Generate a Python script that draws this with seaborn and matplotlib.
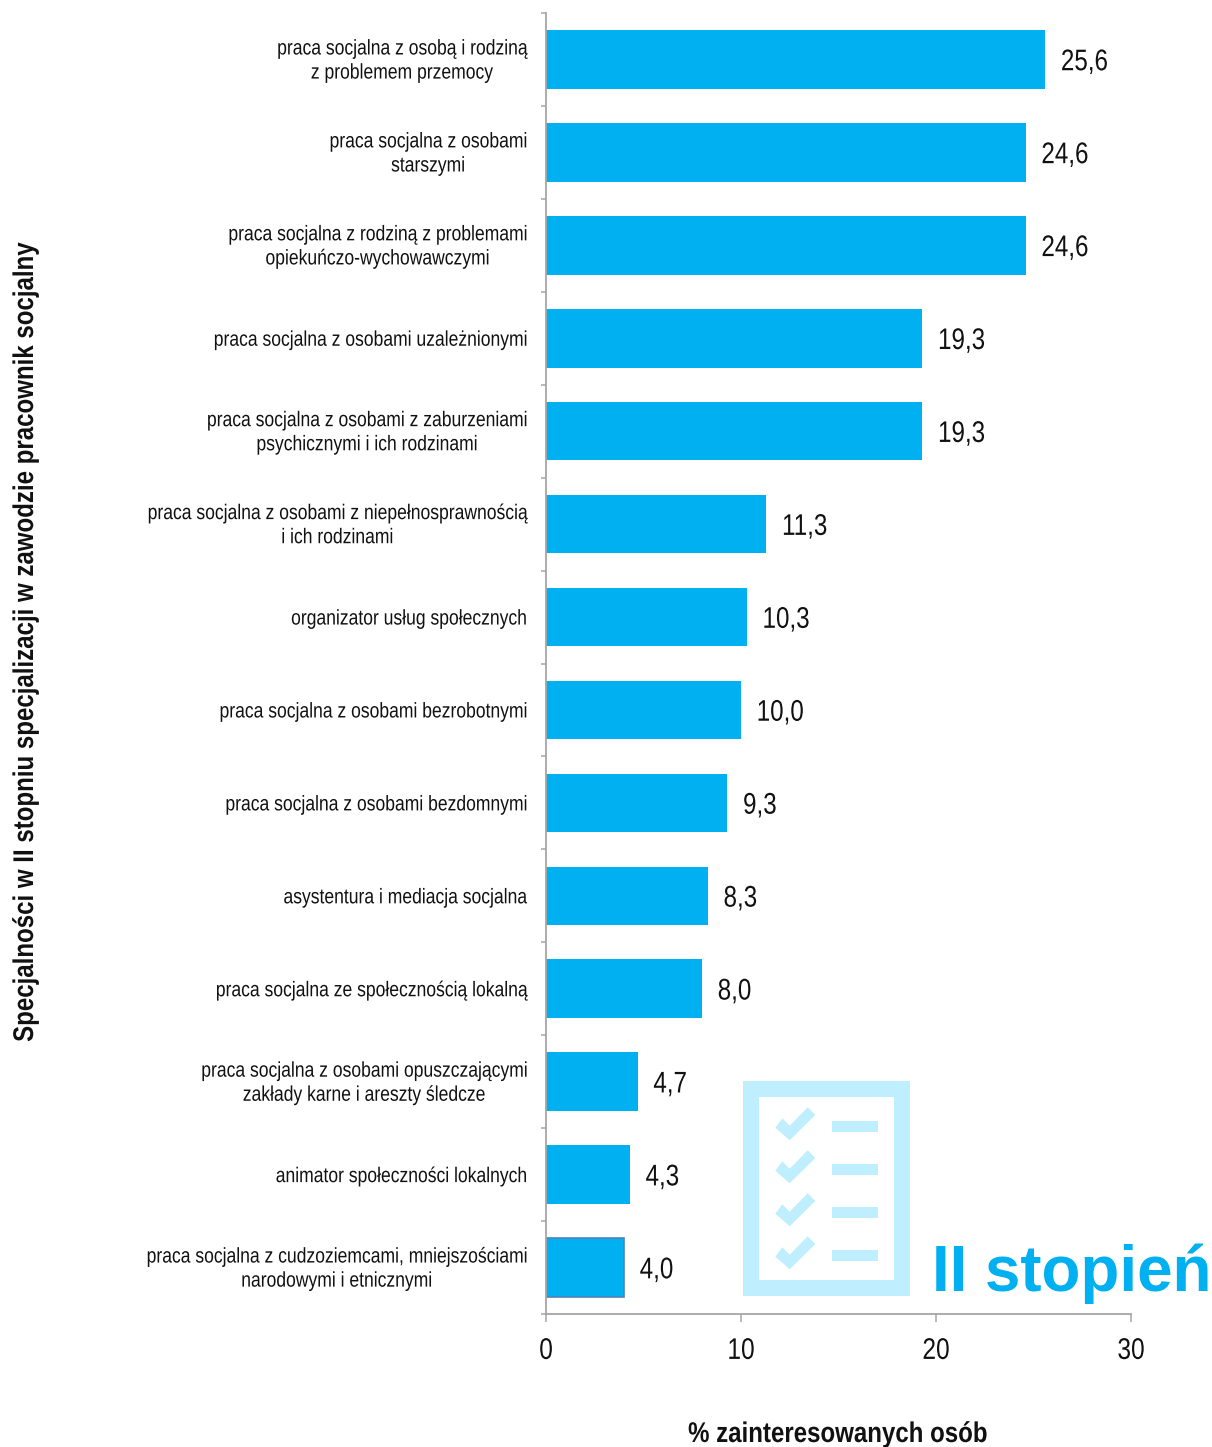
import numpy as np
import pandas as pd
import matplotlib
matplotlib.use("Agg")
import matplotlib.pyplot as plt
from matplotlib.patches import Rectangle, Polygon
from matplotlib.patheffects import AbstractPathEffect
from matplotlib.transforms import Affine2D
import seaborn as sns

categories = [
    "praca socjalna z osobą i rodziną\nz problemem przemocy",
    "praca socjalna z osobami\nstarszymi",
    "praca socjalna z rodziną z problemami\nopiekuńczo-wychowawczymi",
    "praca socjalna z osobami uzależnionymi",
    "praca socjalna z osobami z zaburzeniami\npsychicznymi i ich rodzinami",
    "praca socjalna z osobami z niepełnosprawnością\ni ich rodzinami",
    "organizator usług społecznych",
    "praca socjalna z osobami bezrobotnymi",
    "praca socjalna z osobami bezdomnymi",
    "asystentura i mediacja socjalna",
    "praca socjalna ze społecznością lokalną",
    "praca socjalna z osobami opuszczającymi\nzakłady karne i areszty śledcze",
    "animator społeczności lokalnych",
    "praca socjalna z cudzoziemcami, mniejszościami\nnarodowymi i etnicznymi",
]
values = [25.6, 24.6, 24.6, 19.3, 19.3, 11.3, 10.3, 10.0, 9.3, 8.3, 8.0, 4.7, 4.3, 4.0]
x_ticks = [0, 10, 20, 30]

W, H = 1212, 1447
BLUE = "#00B0F0"
PALE = "#BFEEFF"
GREY = "#A6A6A6"
INK = "#111111"
AX_LEFT, AX_RIGHT = 546, 1131


# no narrow font installed, so squeeze the glyphs along the text direction
class Squeeze(AbstractPathEffect):
    def __init__(self, fx=1.0, fy=1.0, x0=None, y0=None, dy=0):
        super().__init__()
        self.fx, self.fy, self.x0, self.y0, self.dy = fx, fy, x0, y0, dy

    def draw_path(self, renderer, gc, tpath, affine, rgbFace=None):
        m = affine.get_matrix()
        x0 = m[0, 2] if self.x0 is None else self.x0
        y0 = m[1, 2] if self.y0 is None else self.y0
        sq = Affine2D().translate(-x0, -y0).scale(self.fx, self.fy).translate(x0, y0 + self.dy)
        renderer.draw_path(gc, tpath, affine + sq, rgbFace)


sns.set_theme(style="white")
plt.rcParams["font.family"] = ["Liberation Sans", "DejaVu Sans"]

df = pd.DataFrame({"cat": categories, "val": values})

fig = plt.figure(figsize=(W / 100, H / 100), dpi=100)
ax = fig.add_axes([AX_LEFT / W, 1 - 1314 / H, (AX_RIGHT - AX_LEFT) / W, (1314 - 13) / H])
sns.barplot(data=df, y="cat", x="val", orient="h", color=BLUE, saturation=1, width=0.63,
            linewidth=0, ax=ax)
ax.set_xlim(0, 30)
ax.set_ylim(len(values) - 0.5, -0.5)

# last bar has a darker outline in the original
ax.patches[-1].set_edgecolor("#4F81BD")
ax.patches[-1].set_linewidth(1.2)

anns = ax.bar_label(ax.containers[0], labels=[f"{v:.1f}".replace(".", ",") for v in values],
                    padding=11.5, fontsize=21.5, color=INK)
for a in anns:
    a.xyann = (11.3, -2)
    a.set_path_effects([Squeeze(fx=0.81)])

sns.despine(ax=ax)
for side in ["left", "bottom"]:
    ax.spines[side].set_color(GREY)
    ax.spines[side].set_linewidth(1.3)
    ax.spines[side].set_zorder(5)

ax.set_xticks(x_ticks)
ax.tick_params(axis="x", length=6, width=1.1, color=GREY, labelsize=21.5, pad=10.5, labelcolor=INK, bottom=True)
ax.tick_params(axis="y", which="major", length=0, pad=14, labelsize=15.3, labelcolor=INK)
ax.set_yticks(np.arange(len(values) + 1) - 0.5, minor=True)
ax.tick_params(axis="y", which="minor", length=3.5, width=1.1, color=GREY, left=True)
for lab, cat in zip(ax.get_yticklabels(), categories):
    lab.set_multialignment("center")
    lab.set_linespacing(1.34)
    # two-line labels sit a little higher than the axis centre
    lab.set_path_effects([Squeeze(fx=0.825, x0=527, dy=3 if "\n" in cat else 0)])
for t, lab in zip(x_ticks, ax.get_xticklabels()):
    lab.set_path_effects([Squeeze(fx=0.82, x0=AX_LEFT + t * (AX_RIGHT - AX_LEFT) / 30)])
ax.set_xlabel("")
ax.set_ylabel("")

# overlay in pixel coordinates for axis titles and the checklist icon
ov = fig.add_axes([0, 0, 1, 1], facecolor="none")
ov.set_xlim(0, W)
ov.set_ylim(H, 0)
ov.axis("off")

xl = ov.text(838, 1435, "% zainteresowanych osób", ha="center", va="center",
             fontsize=20.5, fontweight="bold", color=INK)
xl.set_path_effects([Squeeze(fx=0.845, x0=838)])
yl = ov.text(26, 642, "Specjalności w II stopniu specjalizacji w zawodzie pracownik socjalny",
             rotation=90, ha="center", va="center", fontsize=20.5, fontweight="bold", color=INK)
yl.set_path_effects([Squeeze(fy=0.845, y0=H - 642)])
ov.text(932, 1291, "II stopień", ha="left", va="baseline", fontsize=45.8, fontweight="bold", color=BLUE)

ov.add_patch(Rectangle((751, 1088.5), 151, 199.5, fill=False, edgecolor=PALE, linewidth=11.5, joinstyle="miter"))
check = np.array([(775.3, 1127.7), (782.3, 1118.3), (789.7, 1125.7), (807.7, 1107.3), (815.3, 1115), (789.7, 1140.3)])
for i in range(4):
    ov.add_patch(Rectangle((832, 1121 + 43 * i), 46, 11, color=PALE, linewidth=0))
    ov.add_patch(Polygon(check + [0, 43 * i], closed=True, color=PALE, linewidth=0))

fig.savefig("out.png", dpi=100)
